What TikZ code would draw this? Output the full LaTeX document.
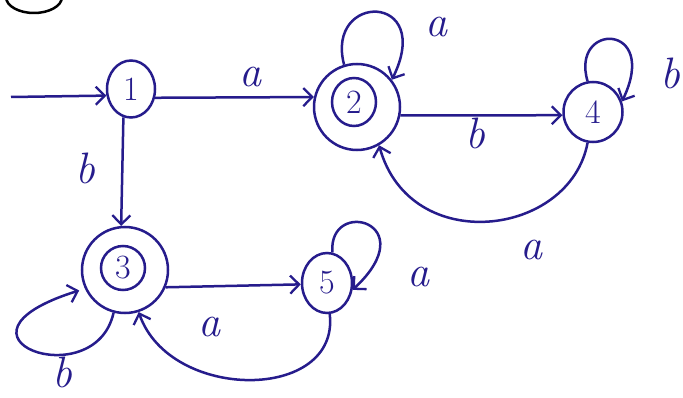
\documentclass[tikz,border=0pt]{standalone}
\usepackage{fontspec}
\usetikzlibrary{arrows.meta,shapes.geometric}
\definecolor{ink}{RGB}{38,28,140}
\begin{document}
\begin{tikzpicture}[x=1pt,y=1pt,
  conn/.style={draw=ink,line width=2.5pt,-{Straight Barb[length=9pt,width=18pt,line width=2.3pt]}},
  stateo/.style={ellipse,draw=ink,line width=2.5pt,inner sep=0pt,font=\fontsize{34}{34}\selectfont,text=ink},
  ring/.style={circle,draw=ink,line width=2.5pt,inner sep=0pt},
  lbl/.style={text=ink,font=\fontsize{44}{44}\selectfont\itshape,inner sep=0pt}]
\clip (0,0) rectangle (683,397);
\fill[white] (0,0) rectangle (683,397);
% partial circle at top left
\draw[black,line width=2.5pt] (34,400) ellipse [x radius=28,y radius=16];
% states
\node[stateo,minimum width=48pt,minimum height=57pt] (n1) at (131,308) {1};
\node[ring,minimum size=86pt] (n2o) at (357,290) {};
\node[stateo,minimum width=44pt,minimum height=48pt] (n2) at (354,295) {2};
\node[ring,minimum size=86pt] (n3o) at (125,127) {};
\node[stateo,minimum width=44pt,minimum height=44pt] (n3) at (123,129) {3};
\node[stateo,minimum width=59pt,minimum height=60pt] (n4) at (593,285) {4};
\node[stateo,minimum width=50pt,minimum height=60pt] (n5) at (327,114) {5};
\coordinate (s) at (11,300);
% start arrow
\draw[conn] (s) -- (n1.195);
% transitions
\draw[conn] (n1.-20) -- (n2o.167);
\node[lbl] (la12) at (250,320) {a};
\draw[conn] (n2o.107) .. controls (325,405) and (435,405) .. (n2o.38);
\node[lbl] (la22) at (436,370) {a};
\draw[conn] (n2o.-11) -- (n4.186);
\node[lbl] (lb24) at (475,264) {b};
\draw[conn] (n4.100) .. controls (570,375) and (660,375) .. (n4.20);
\node[lbl,anchor=west] (lb44) at (660,324) {b};
\draw[conn] (n4.260) .. controls (570,160) and (410,140) .. (n2o.300);
\node[lbl] (la42) at (531,147) {a};
\draw[conn] (n1.255) -- (n3o.95);
\node[lbl] (lb13) at (85,229) {b};
\draw[conn] (n3o.-23) -- (n5.183);
\draw[conn] (n5.80) .. controls (328,200) and (425,175) .. (n5.-15);
\node[lbl] (la55) at (418,120) {a};
\draw[conn] (n5.-85) .. controls (340,-5) and (170,-5) .. (n3o.-72);
\node[lbl] (la53) at (209,70) {a};
\draw[conn,shorten >=6pt] (n3o.-105) .. controls (95,0) and (-70,60) .. (n3o.205);
\node[lbl] (lb33) at (62,25) {b};
\end{tikzpicture}
\end{document}
